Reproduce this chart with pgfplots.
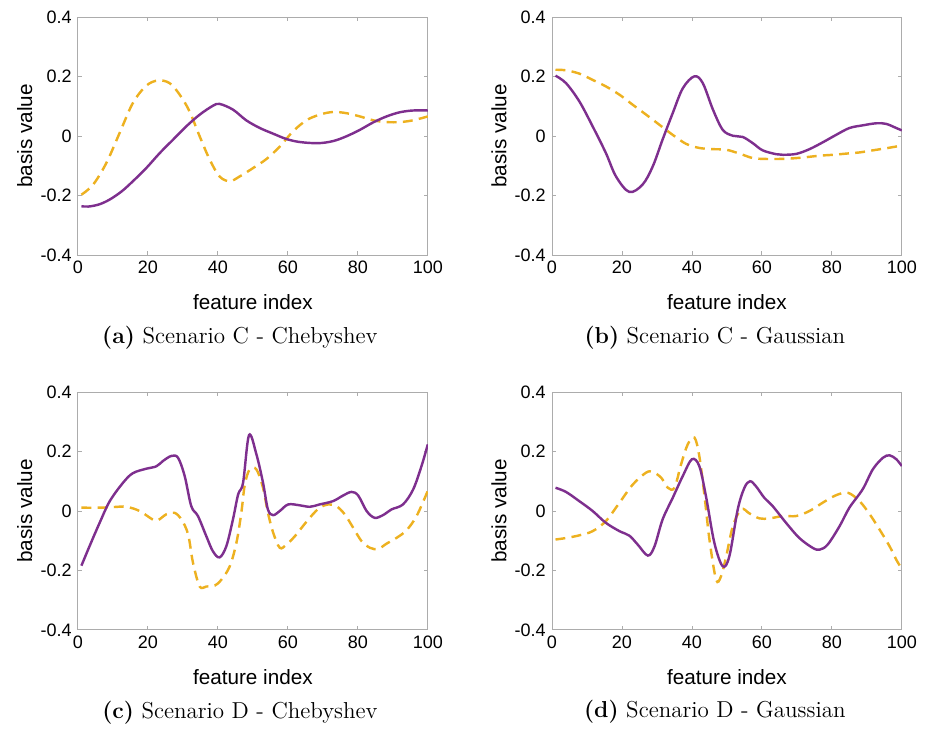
\documentclass[border=0pt]{standalone}
\usepackage{fontspec}
\usepackage{pgfplots}
\pgfplotsset{compat=1.18}
\newfontfamily\arial{Liberation Sans}
\definecolor{mpurple}{RGB}{126,47,142}
\definecolor{morange}{RGB}{237,177,32}

\pgfplotsset{
  basisplot/.style={
    scale only axis,
    width=194.4pt, height=132.2pt,
    xmin=0, xmax=100, ymin=-0.4, ymax=0.4,
    xtick={0,20,40,60,80,100},
    ytick={-0.4,-0.2,0,0.2,0.4},
    yticklabels={-0.4,-0.2,0,0.2,0.4},
    xticklabels={0,20,40,60,80,100},
    tick align=inside,
    major tick length=2pt,
    axis line style={gray!65, line width=0.5pt},
    every tick/.style={gray!65, line width=0.5pt},
    tick label style={font=\arial\fontsize{10}{12}\selectfont},
    label style={font=\arial\fontsize{11.5}{13}\selectfont},
    xlabel={feature index},
    ylabel={basis value},
    xlabel style={at={([yshift=-26pt]axis description cs:0.5,0)}, anchor=center},
    ylabel style={at={([xshift=-29.5pt]axis description cs:0,0.5)}, anchor=center},
    anchor=south west,
  },
  solidline/.style={mpurple, line width=1.35pt, smooth, tension=0.55},
  dashline/.style={morange, line width=1.35pt, dash pattern=on 5.5pt off 3.5pt, smooth, tension=0.55},
}
\newcommand{\subcap}[2]{{\fontsize{12.8}{15}\selectfont\textbf{(#1)} #2}}

\begin{document}
\begin{tikzpicture}
\path (0,0) rectangle (518.4pt,403.9pt);

% (a) Scenario C - Chebyshev
\begin{axis}[basisplot, at={(43.3pt,262.2pt)}]
\addplot[dashline] coordinates {
(1,-0.197) (4.3,-0.164) (8.1,-0.091) (11.9,0.010) (15.7,0.111) (19.5,0.169)
(22.9,0.187) (26.2,0.178) (29.1,0.139) (31.9,0.083) (34.8,-0.001) (37.7,-0.080)
(40.5,-0.136) (43.4,-0.152) (46.2,-0.136) (50,-0.108) (53.9,-0.077) (57.7,-0.035)
(61.5,0.016) (65.3,0.053) (69.1,0.072) (72.9,0.081) (76.7,0.077) (80.6,0.066)
(84.4,0.053) (88.2,0.047) (92,0.047) (95.8,0.053) (100,0.066)};
\addplot[solidline] coordinates {
(1,-0.236) (3,-0.237) (6,-0.230) (9,-0.214) (12.5,-0.186) (15.7,-0.152) (19.5,-0.108)
(23.4,-0.057) (27.2,-0.012) (31,0.033) (34.8,0.072) (38.6,0.102) (40.5,0.108)
(44.3,0.089) (48.1,0.053) (52,0.027) (55.8,0.008) (59.6,-0.010) (63.4,-0.020)
(68.6,-0.024) (72.9,-0.017) (76.7,-0.001) (80.6,0.021) (84.4,0.046) (88.2,0.066)
(92,0.080) (95.8,0.086) (100,0.086)};
\end{axis}

% (b) Scenario C - Gaussian
\begin{axis}[basisplot, at={(306.7pt,262.2pt)}]
\addplot[dashline] coordinates {
(1,0.223) (4,0.221) (7.8,0.210) (11.6,0.189) (15.4,0.167) (19.3,0.139)
(23.1,0.105) (26.9,0.072) (30.7,0.038) (34.5,0.004) (38.3,-0.026) (42.1,-0.040)
(46,-0.044) (49.8,-0.046) (53.6,-0.059) (57.4,-0.074) (61.2,-0.077) (65,-0.077)
(68.8,-0.075) (72.6,-0.071) (76.5,-0.066) (80.3,-0.063) (84.1,-0.059)
(87.9,-0.055) (91.7,-0.048) (95.5,-0.041) (100,-0.032)};
\addplot[solidline] coordinates {
(1,0.203) (4,0.178) (7.8,0.117) (11.6,0.033) (15.4,-0.057) (18.3,-0.136)
(22.1,-0.188) (25.9,-0.163) (28.8,-0.102) (31.6,-0.012) (34.5,0.077) (37.4,0.161)
(40.7,0.201) (43.1,0.178) (46,0.089) (48.8,0.021) (51.7,0.001) (54.5,-0.003)
(57.4,-0.024) (60.2,-0.048) (64.1,-0.061) (66,-0.063) (69.8,-0.060) (73.6,-0.044)
(77.4,-0.021) (81.2,0.004) (85,0.027) (88.8,0.036) (92.7,0.043) (95.5,0.041)
(98.4,0.027) (100,0.019)};
\end{axis}

% (c) Scenario D - Chebyshev
\begin{axis}[basisplot, at={(43.3pt,53.9pt)}]
\addplot[dashline] coordinates {
(1,0.011) (6.2,0.011) (10,0.013) (13.8,0.014) (17.6,0) (21.4,-0.029) (22.9,-0.031)
(25.3,-0.011) (27.6,-0.006) (29.6,-0.029) (31.5,-0.079) (32.9,-0.175) (34.8,-0.254)
(36.7,-0.254) (39.1,-0.251) (41,-0.231) (43.4,-0.186) (45.3,-0.107) (46.7,-0.006)
(47.7,0.089) (49.1,0.140) (51,0.140) (52.9,0.078) (54.3,-0.006) (55.8,-0.073)
(57.7,-0.124) (59.6,-0.113) (62,-0.085) (64.3,-0.051) (66.7,-0.017) (69.1,0.011)
(71.5,0.022) (73.9,0.016) (76.3,-0.012) (78.7,-0.057) (81.1,-0.102) (83.5,-0.124)
(85.8,-0.128) (88.2,-0.110) (91,-0.091) (93.9,-0.065) (96.8,-0.017) (100,0.068)};
\addplot[solidline] coordinates {
(1,-0.184) (3.3,-0.119) (6.2,-0.040) (9.1,0.033) (12.9,0.095) (15.7,0.127)
(19.5,0.142) (22.4,0.150) (24.3,0.168) (26.7,0.185) (28.6,0.179) (30.5,0.118)
(32.4,0.016) (34.3,-0.017) (36.7,-0.085) (38.6,-0.136) (40.5,-0.156) (42.4,-0.119)
(44.3,-0.029) (45.8,0.056) (47.2,0.095) (48.9,0.255) (51,0.191) (52.9,0.095)
(54.3,0.005) (55.8,-0.014) (57.7,0) (60.1,0.022) (63.4,0.019) (66.3,0.014)
(69.1,0.022) (72.9,0.033) (75.8,0.052) (78.2,0.064) (80.1,0.052) (82.5,0)
(84.8,-0.023) (87.2,-0.014) (89.6,0.005) (92.9,0.022) (95.8,0.072) (98.2,0.151)
(100,0.224)};
\end{axis}

% (d) Scenario D - Gaussian
\begin{axis}[basisplot, at={(306.7pt,53.9pt)}]
\addplot[dashline] coordinates {
(1,-0.096) (4,-0.091) (7.8,-0.082) (11.6,-0.068) (15.4,-0.034) (19.3,0.028)
(23.1,0.089) (26.9,0.129) (28.8,0.131) (31.2,0.112) (33.1,0.078) (35,0.078)
(36.9,0.157) (38.8,0.224) (40.7,0.247) (42.1,0.185) (43.6,0.050) (45,-0.096)
(46.9,-0.231) (48.3,-0.220) (49.8,-0.152) (51.7,-0.051) (54.1,0.006) (56.4,-0.008)
(59.3,-0.025) (62.2,-0.025) (66,-0.017) (69.8,-0.017) (73.6,0) (77.4,0.028)
(81.2,0.053) (84.6,0.061) (87.9,0.033) (90.8,-0.011) (93.6,-0.062) (96.5,-0.119)
(98.4,-0.164) (100,-0.195)};
\addplot[solidline] coordinates {
(1,0.078) (4,0.064) (7.8,0.033) (11.6,0) (15.4,-0.040) (19.3,-0.068) (22.1,-0.083)
(24.5,-0.113) (27.4,-0.150) (29.3,-0.119) (31.6,-0.029) (34.5,0.044) (37.4,0.118)
(40,0.174) (42.1,0.151) (44,0.050) (46.4,-0.107) (48.8,-0.186) (50.7,-0.152)
(53.1,0.006) (55,0.078) (56.6,0.100) (58.3,0.083) (60.7,0.044) (63.1,0.016)
(66.9,-0.040) (70.7,-0.091) (74.5,-0.124) (76.5,-0.130) (78.8,-0.113) (82.2,-0.051)
(85,0.011) (88.8,0.073) (91.7,0.140) (94.6,0.179) (96.5,0.187) (98.4,0.174)
(100,0.151)};
\end{axis}

\node at (133.3pt,216.1pt) {\subcap{a}{Scenario C - Chebyshev}};
\node at (397.2pt,216.1pt) {\subcap{b}{Scenario C - Gaussian}};
\node at (133.3pt,7.8pt) {\subcap{c}{Scenario D - Chebyshev}};
\node at (397.2pt,8.3pt) {\subcap{d}{Scenario D - Gaussian}};
\end{tikzpicture}
\end{document}
